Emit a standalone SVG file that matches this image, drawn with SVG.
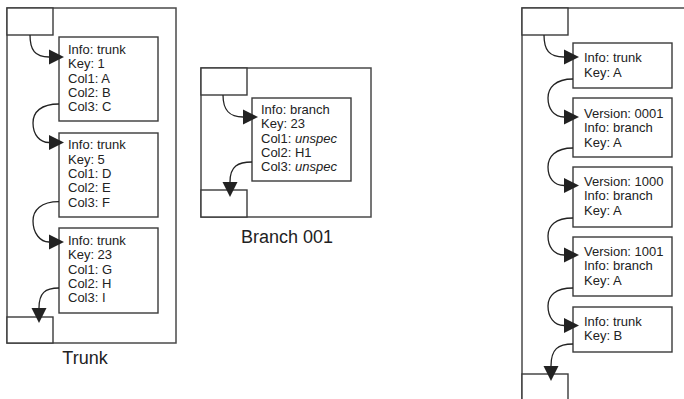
<svg xmlns="http://www.w3.org/2000/svg" width="684" height="399" viewBox="0 0 684 399">
<style>
.box{fill:#fff;stroke:#3a3a3a;stroke-width:1.4}
.frame{fill:#fff;stroke:#4a4a4a;stroke-width:1.5}
.t{font-family:"Liberation Sans",Arial,sans-serif;font-size:13px;fill:#222}
.cap{font-family:"Liberation Sans",Arial,sans-serif;font-size:18px;fill:#222;text-anchor:middle}
.c{fill:none;stroke:#222;stroke-width:1.3;marker-end:url(#ah)}
</style>
<defs>
<marker id="ah" markerUnits="userSpaceOnUse" markerWidth="16" markerHeight="16" refX="0" refY="7.5" orient="auto" overflow="visible">
<path d="M0,0 L15,7.5 L0,15 Z" fill="#222"/>
</marker>
</defs>
<g id="trunk">
<rect class="frame" x="7" y="8" width="169" height="335"/>
<rect class="box" x="7" y="8" width="46" height="27"/>
<rect class="box" x="7" y="317" width="46" height="26"/>
<text class="cap" x="85" y="364">Trunk</text>
</g>
<g id="trunk-rec1">
<rect class="box" x="59" y="37" width="99" height="84"/>
<text class="t" x="68" y="54">Info: trunk</text>
<text class="t" x="68" y="68.3">Key: 1</text>
<text class="t" x="68" y="82.6">Col1: A</text>
<text class="t" x="68" y="96.9">Col2: B</text>
<text class="t" x="68" y="111.2">Col3: C</text>
</g>
<g id="trunk-rec2">
<rect class="box" x="59" y="133" width="99" height="84"/>
<text class="t" x="68" y="149.3">Info: trunk</text>
<text class="t" x="68" y="163.6">Key: 5</text>
<text class="t" x="68" y="177.9">Col1: D</text>
<text class="t" x="68" y="192.2">Col2: E</text>
<text class="t" x="68" y="206.5">Col3: F</text>
</g>
<g id="trunk-rec3">
<rect class="box" x="59" y="228" width="99" height="85"/>
<text class="t" x="68" y="245">Info: trunk</text>
<text class="t" x="68" y="259.3">Key: 23</text>
<text class="t" x="68" y="273.6">Col1: G</text>
<text class="t" x="68" y="287.9">Col2: H</text>
<text class="t" x="68" y="302.2">Col3: I</text>
</g>
<g id="branch">
<rect class="frame" x="201" y="68" width="170" height="149"/>
<rect class="box" x="201" y="68" width="46" height="27"/>
<rect class="box" x="201" y="190" width="46" height="27"/>
<text class="cap" x="287" y="243">Branch 001</text>
</g>
<g id="branch-rec">
<rect class="box" x="252" y="98" width="99" height="83"/>
<text class="t" x="261" y="114">Info: branch</text>
<text class="t" x="261" y="128.3">Key: 23</text>
<text class="t" x="261" y="142.6">Col1: <tspan font-style="italic">unspec</tspan></text>
<text class="t" x="261" y="156.9">Col2: H1</text>
<text class="t" x="261" y="171.2">Col3: <tspan font-style="italic">unspec</tspan></text>
</g>
<g id="versions">
<rect class="frame" x="522" y="8" width="180" height="400"/>
<rect class="box" x="522" y="8" width="46" height="27"/>
<rect class="box" x="522" y="374" width="46" height="40"/>
</g>
<g id="v-rec1">
<rect class="box" x="573" y="43" width="99" height="45"/>
<text class="t" x="584" y="62.3">Info: trunk</text>
<text class="t" x="584" y="76.7">Key: A</text>
</g>
<g id="v-rec2">
<rect class="box" x="573" y="98" width="99" height="59"/>
<text class="t" x="584" y="118">Version: 0001</text>
<text class="t" x="584" y="132.3">Info: branch</text>
<text class="t" x="584" y="146.6">Key: A</text>
</g>
<g id="v-rec3">
<rect class="box" x="573" y="167" width="99" height="60"/>
<text class="t" x="584" y="186">Version: 1000</text>
<text class="t" x="584" y="200.3">Info: branch</text>
<text class="t" x="584" y="214.6">Key: A</text>
</g>
<g id="v-rec4">
<rect class="box" x="573" y="237" width="99" height="59"/>
<text class="t" x="584" y="256">Version: 1001</text>
<text class="t" x="584" y="270.3">Info: branch</text>
<text class="t" x="584" y="284.6">Key: A</text>
</g>
<g id="v-rec5">
<rect class="box" x="573" y="307" width="99" height="45"/>
<text class="t" x="584" y="326">Info: trunk</text>
<text class="t" x="584" y="340.3">Key: B</text>
</g>
<g id="connectors">
<path class="c" d="M30,35 C30,50 35,57 49,57"/>
<path class="c" d="M59,104 C41,104 33,112 33,123 C33,135 40,142.5 49,142.5"/>
<path class="c" d="M59,201.7 C41,201.7 33,210 33,221 C33,233 40,242 49,242"/>
<path class="c" d="M59,288 C45,288 39,293 39,308"/>
<path class="c" d="M223,95 C223,110 229,117 243,117"/>
<path class="c" d="M252,162 C238,162 230,166 230,182"/>
<path class="c" d="M544,35 C544,50 549,57 564,57"/>
<path class="c" d="M573,79 C555,79 548,88 548,98 C548,109 554,117 564,117"/>
<path class="c" d="M573,148 C555,148 548,157 548,167 C548,178 554,185.5 564,185.5"/>
<path class="c" d="M573,218 C555,218 548,226 548,236 C548,247 554,255 564,255"/>
<path class="c" d="M573,288 C555,288 548,296 548,306 C548,317 554,325.5 564,325.5"/>
<path class="c" d="M573,344 C558,344 551,349 551,366"/>
</g>
</svg>
